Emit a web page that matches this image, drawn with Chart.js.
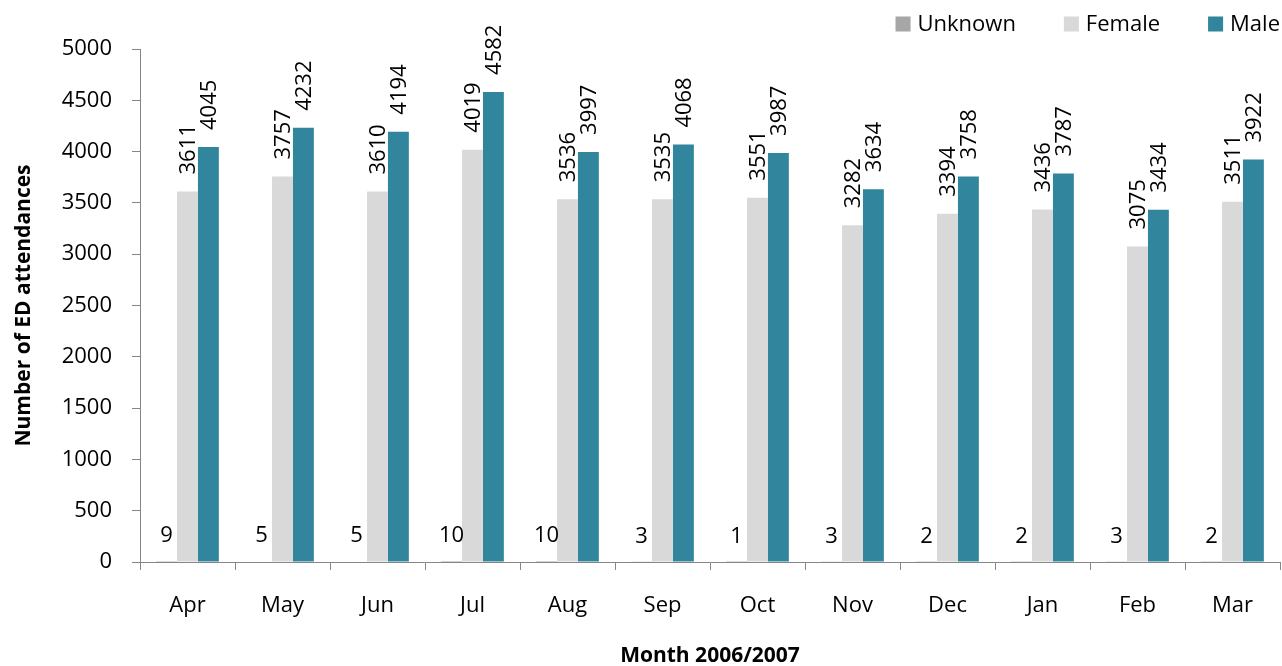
<!DOCTYPE html>
<html lang="en">
  <head>
    <meta charset="utf-8" />
    <title>ED attendances by month</title>
    <style>
      html, body { margin: 0; padding: 0; background: #ffffff; }
      #wrap { width: 1282px; height: 666px; }
    </style>
  </head>
  <body>
    <div id="wrap"><canvas id="chart" width="1282" height="666"></canvas></div>
    <script src="https://cdn.jsdelivr.net/npm/chart.js"></script>
    <script>
      const months = ["Apr", "May", "Jun", "Jul", "Aug", "Sep", "Oct", "Nov", "Dec", "Jan", "Feb", "Mar"];
      const unknown = [9, 5, 5, 10, 10, 3, 1, 3, 2, 2, 3, 2];
      const female = [3611, 3757, 3610, 4019, 3536, 3535, 3551, 3282, 3394, 3436, 3075, 3511];
      const male = [4045, 4232, 4194, 4582, 3997, 4068, 3987, 3634, 3758, 3787, 3434, 3922];

      const FONT = "'Open Sans', 'Noto Sans', sans-serif";

      // value labels: small counts flat, the big ones turned up the bar
      const valueLabels = {
        id: "valueLabels",
        afterDatasetsDraw(chart) {
          const ctx = chart.ctx;
          ctx.save();
          ctx.fillStyle = "#000";
          ctx.font = "22px " + FONT;
          chart.data.datasets.forEach((ds, i) => {
            const meta = chart.getDatasetMeta(i);
            meta.data.forEach((bar, j) => {
              const txt = String(ds.data[j]);
              if (i === 0) {
                ctx.textAlign = "center";
                ctx.textBaseline = "alphabetic";
                ctx.fillText(txt, bar.x, bar.y - 19);
              } else {
                ctx.save();
                ctx.translate(bar.x, bar.y - 17);
                ctx.rotate(-Math.PI / 2);
                ctx.textAlign = "left";
                ctx.textBaseline = "middle";
                ctx.fillText(txt, 0, 1);
                ctx.restore();
              }
            });
          });
          ctx.restore();
        },
      };

      // legend in the top right corner, Excel style
      const cornerLegend = {
        id: "cornerLegend",
        afterDraw(chart) {
          const ctx = chart.ctx;
          ctx.save();
          ctx.font = "22px " + FONT;
          ctx.textBaseline = "middle";
          ctx.textAlign = "left";
          const box = 15, gapBox = 7, gapItem = 48, yMid = 24;
          let x = chart.chartArea.right;
          const items = chart.data.datasets.slice().reverse();
          items.forEach((ds) => {
            const w = ctx.measureText(ds.label).width;
            x -= w;
            ctx.fillStyle = "#000";
            ctx.fillText(ds.label, x, yMid + 1);
            x -= gapBox + box;
            ctx.fillStyle = ds.backgroundColor;
            ctx.fillRect(x, yMid - box / 2, box, box);
            x -= gapItem;
          });
          ctx.restore();
        },
      };

      new Chart(document.getElementById("chart"), {
        type: "bar",
        data: {
          labels: months,
          datasets: [
            { label: "Unknown", data: unknown, backgroundColor: "#a6a6a6" },
            { label: "Female", data: female, backgroundColor: "#d9d9d9" },
            { label: "Male", data: male, backgroundColor: "#31859c" },
          ],
        },
        options: {
          responsive: false,
          animation: false,
          events: [],
          datasets: { bar: { categoryPercentage: 0.66, barPercentage: 1.0 } },
          layout: { padding: { top: 49, right: 2, left: 0, bottom: 0 } },
          plugins: { legend: { display: false }, tooltip: { enabled: false } },
          scales: {
            x: {
              grid: { drawOnChartArea: false, color: "#868686", tickLength: 8 },
              border: { color: "#868686", width: 1 },
              ticks: { color: "#000", font: { family: FONT, size: 22 }, padding: 23 },
              title: {
                display: true,
                text: "Month 2006/2007",
                color: "#000",
                font: { family: FONT, size: 21, weight: "bold" },
                padding: { top: 0, bottom: -3 },
              },
              afterFit(scale) { scale.height = 104; },
            },
            y: {
              min: 0,
              max: 5000,
              ticks: {
                stepSize: 500,
                color: "#000",
                font: { family: FONT, size: 22 },
                padding: 20,
                callback: (v) => String(v),
              },
              grid: { drawOnChartArea: false, color: "#868686", tickLength: 8 },
              border: { color: "#868686", width: 1 },
              title: {
                display: true,
                text: "Number of ED attendances",
                color: "#000",
                font: { family: FONT, size: 21, weight: "bold" },
                padding: { top: 11, bottom: 0 },
              },
              afterFit(scale) { scale.width = 140; },
            },
          },
        },
        plugins: [valueLabels, cornerLegend],
      });
    </script>
  </body>
</html>
